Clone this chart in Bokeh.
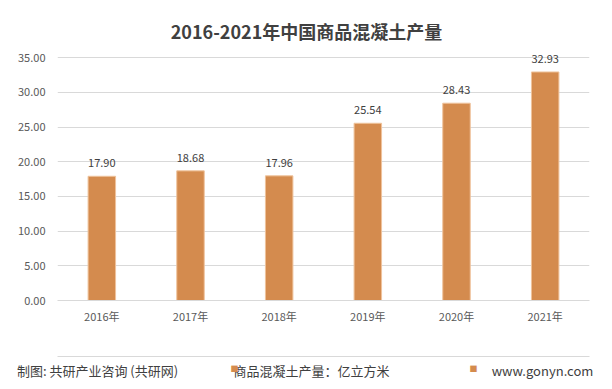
from bokeh.plotting import figure
from bokeh.models import (Range1d, FixedTicker, NumeralTickFormatter, ColumnDataSource, LinearAxis)
from bokeh.layouts import column
from bokeh.core.properties import value
from bokeh.embed import file_html
from bokeh.resources import INLINE

years = ["2016年", "2017年", "2018年", "2019年", "2020年", "2021年"]
output = [17.90, 18.68, 17.96, 25.54, 28.43, 32.93]
labels = ["17.90", "18.68", "17.96", "25.54", "28.43", "32.93"]
yticks = [0, 5, 10, 15, 20, 25, 30, 35]
title_text = "2016-2021年中国商品混凝土产量"
legend_text = "商品混凝土产量：亿立方米"
source_text = "制图: 共研产业咨询 (共研网)"
site_text = "www.gonyn.com"

FONT = "Noto Sans CJK SC"
BAR = "#D48B4E"
TXT = "#404040"
GRID = "#d9d9d9"

W, H1, H2 = 612, 348, 41
FL, FR, FT, FB = 57, 589, 12, 300   # frame edges in page pixels
YMAX = 41.5
N = len(years)


def X(px):
    return (px - FL) * N / (FR - FL)


def Y(py):
    return (FB - py) * YMAX / (FB - FT)


xpos = [i + 0.5 for i in range(N)]
src = ColumnDataSource(dict(x=xpos, y=output, lab=labels))

p = figure(width=W, height=H1, x_range=Range1d(0, N), y_range=Range1d(0, YMAX),
           output_backend="svg", toolbar_location=None,
           min_border_left=FL, min_border_right=W - FR, min_border_top=FT, min_border_bottom=H1 - FB)
p.outline_line_color = None

p.vbar(x="x", top="y", width=0.31, source=src, fill_color=BAR, line_color="#efc39c", line_width=1)
p.text(x="x", y="y", text="lab", source=src, text_align="center", text_baseline="bottom",
       y_offset=-9, text_font=value(FONT), text_font_size="11px", text_color=TXT)
p.text(x=[X(306)], y=[Y(30)], text=[title_text], text_align="center", text_baseline="middle",
       text_font=value(FONT), text_font_size="18px", text_font_style="bold", text_color=TXT)

p.yaxis.ticker = FixedTicker(ticks=yticks)
p.yaxis.formatter = NumeralTickFormatter(format="0.00")
p.yaxis.axis_line_color = None
p.yaxis.major_tick_line_color = None
p.yaxis.minor_tick_line_color = None
p.yaxis.major_tick_out = 0
p.yaxis.major_label_standoff = 12
p.xaxis.ticker = FixedTicker(ticks=xpos)
p.xaxis.major_label_overrides = dict(zip(xpos, years))
p.xaxis.axis_line_color = GRID
p.xaxis.major_tick_line_color = None
p.xaxis.minor_tick_line_color = None
p.xaxis.major_tick_out = 0
p.xaxis.major_label_standoff = 7
for ax in (p.xaxis, p.yaxis):
    ax.major_label_text_font = FONT
    ax.major_label_text_font_size = "11px"
    ax.major_label_text_color = "#595959"
p.xgrid.grid_line_color = None
p.ygrid.grid_line_color = GRID
p.ygrid.ticker = FixedTicker(ticks=yticks)

# footer strip: a 1px frame whose bottom axis line is the separator; its labels are the footer texts
f = figure(width=W, height=H2, x_range=Range1d(FL, FR), y_range=Range1d(0, 1),
           output_backend="svg", toolbar_location=None, x_axis_location=None, y_axis_location=None,
           min_border_left=FL, min_border_right=W - FR, min_border_top=7, min_border_bottom=H2 - 8)
f.outline_line_color = None
f.grid.visible = False

foot_ticks = [97, 311, 542]
foot_text = [source_text, legend_text, site_text]
fa = LinearAxis(ticker=FixedTicker(ticks=foot_ticks),
                major_label_overrides=dict(zip(foot_ticks, foot_text)),
                bounds=(12, 600),
                axis_line_color=GRID, major_tick_line_color=None, minor_tick_line_color=None,
                major_tick_out=0, major_label_standoff=4,
                major_label_text_font=FONT, major_label_text_font_size="13px",
                major_label_text_color=TXT)
f.add_layout(fa, "below")

# legend swatch and site logo marks
ma = LinearAxis(ticker=FixedTicker(ticks=[234, 473]),
                major_label_overrides={234: "■", 473: "■"},
                axis_line_color=None, major_tick_line_color=None, minor_tick_line_color=None,
                major_tick_out=0, major_label_standoff=-20,
                major_label_text_font=FONT, major_label_text_font_size="8px",
                major_label_text_color=BAR)
f.add_layout(ma, "below")

layout = column(p, f, spacing=0)
open("out.html", "w").write(file_html(layout, INLINE))
